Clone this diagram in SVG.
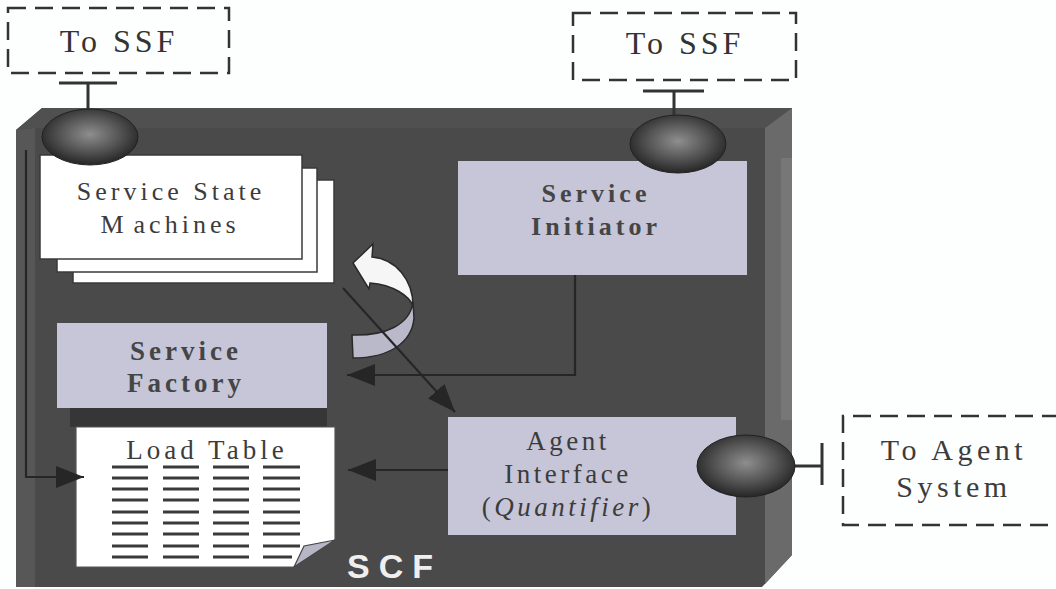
<svg xmlns="http://www.w3.org/2000/svg" width="1056" height="589" viewBox="0 0 1056 589">
  <defs>
    <radialGradient id="knob" cx="0.5" cy="0.45" r="0.55">
      <stop offset="0" stop-color="#8e8e8e"/>
      <stop offset="0.55" stop-color="#565656"/>
      <stop offset="1" stop-color="#262626"/>
    </radialGradient>
    <marker id="head" markerUnits="userSpaceOnUse" markerWidth="30" markerHeight="24" refX="28" refY="11" orient="auto">
      <path d="M0,0 L28,11 L0,22 Z" fill="#262626"/>
    </marker>
    <style>
      .serif{font-family:"Liberation Serif","Times New Roman",serif;fill:#3c3c3c;text-anchor:middle}
      .ext{font-size:32px;letter-spacing:4px;fill:#333}
      .body{font-size:26px;letter-spacing:4px}
      .bold{font-weight:bold;fill:#454545}
      .dash{fill:none;stroke:#333;stroke-width:2.5;stroke-dasharray:18 9}
      .knob{fill:url(#knob);stroke:#222;stroke-width:1}
      .stem{fill:none;stroke:#333;stroke-width:3}
      .panel{fill:#c6c6d8}
      .card{fill:#fff;stroke:#3a3a3a;stroke-width:1.5}
      .wire{fill:none;stroke:#262626;stroke-width:2.2}
      .rows{stroke:#3a3a3a;stroke-width:3}
    </style>
  </defs>

  <rect width="1056" height="589" fill="#fdfefe"/>

  <!-- SCF enclosure: bevelled frame -->
  <g id="scf">
    <polygon points="42,108 792,108 792,555 762,587 16,587 16,130" fill="#4a4a4a"/>
    <polygon points="42,108 792,108 765,128 35,128 16,130" fill="#505050"/>
    <polygon points="16,130 35,128 35,587 16,587" fill="#575757"/>
    <polygon points="765,128 792,108 792,555 765,584" fill="#6a6a6a"/>
    <rect x="781" y="158" width="11" height="262" fill="#777"/>
    <text x="347" y="578" font-family="'Liberation Sans',Arial,sans-serif" font-weight="bold" font-size="34" letter-spacing="9" fill="#efefef">SCF</text>
  </g>

  <!-- external endpoints -->
  <g id="ssf-left">
    <rect class="dash" x="8" y="8" width="221" height="65"/>
    <text class="serif ext" x="119" y="52">To SSF</text>
  </g>
  <g id="ssf-right">
    <rect class="dash" x="573" y="13" width="223" height="67"/>
    <text class="serif ext" x="685" y="54">To SSF</text>
  </g>
  <g id="agent-system">
    <path class="dash" d="M1060,416 H843 V525 H1060"/>
    <text class="serif" x="954" y="460" font-size="30" letter-spacing="4.5" fill="#333">To Agent</text>
    <text class="serif" x="954" y="497" font-size="30" letter-spacing="4.5" fill="#333">System</text>
  </g>

  <!-- Service State Machines: stacked cards -->
  <g id="state-machines">
    <rect class="card" x="73" y="180" width="261" height="103"/>
    <rect class="card" x="57" y="168" width="260" height="104"/>
    <rect class="card" x="40" y="155" width="262" height="104"/>
    <text class="serif body" x="171" y="200">Service State</text>
    <text class="serif body" x="170" y="233">M<tspan dx="6">achines</tspan></text>
  </g>

  <!-- Service Initiator -->
  <g id="initiator">
    <rect class="panel" x="458" y="161" width="289" height="114"/>
    <text class="serif body bold" x="596" y="202">Service</text>
    <text class="serif body bold" x="596" y="235">Initiator</text>
  </g>

  <!-- Service Factory -->
  <g id="factory">
    <rect x="70" y="408" width="257" height="19" fill="#363636"/>
    <rect class="panel" x="57" y="323" width="270" height="85"/>
    <text class="serif bold" x="186" y="360" font-size="27" letter-spacing="4">Service</text>
    <text class="serif bold" x="186" y="392" font-size="27" letter-spacing="4">Factory</text>
  </g>

  <!-- Load Table: page with rows and folded corner -->
  <g id="load-table">
    <polygon points="76,427 335,427 335,540 294,567 76,567" fill="#fff" stroke="#555" stroke-width="1.2"/>
    <text class="serif" x="207" y="459" font-size="27" letter-spacing="4">Load Table</text>
    <g class="rows">
      <path d="M112,467H148M163,467H199M213,467H249M263,467H300
               M112,478H148M163,478H199M213,478H249M263,478H300
               M112,489H148M163,489H199M213,489H249M263,489H300
               M112,500H148M163,500H199M213,500H249M263,500H300
               M112,512H148M163,512H199M213,512H249M263,512H300
               M112,523H148M163,523H199M213,523H249M263,523H300
               M112,534H148M163,534H199M213,534H249M263,534H300
               M112,546H148M163,546H199M213,546H249M263,546H300
               M112,557H148M163,557H199M213,557H249M263,557H292"/>
    </g>
    <polygon points="294,567 304,546 335,540" fill="#b6b6c6" stroke="#444" stroke-width="1.2"/>
  </g>

  <!-- Agent Interface -->
  <g id="agent-interface">
    <rect class="panel" x="448" y="417" width="288" height="118"/>
    <text class="serif" x="568" y="450" font-size="27" letter-spacing="3.5">Agent</text>
    <text class="serif" x="568" y="483" font-size="27" letter-spacing="3.5">Interface</text>
    <text class="serif" x="568" y="516" font-size="27" letter-spacing="3.5">(<tspan font-style="italic">Quantifier</tspan>)</text>
  </g>

  <!-- recycle arrow -->
  <g id="recycle">
    <path d="M413,302 C410,325 385,336 352,335 L353,358 C390,358 412,342 414,318 Z" fill="#b9b9c9" stroke="#2a2a2a" stroke-width="1.5"/>
    <path d="M353,263 L373,244 L372,257 C396,259 413,280 413,306 C409,296 394,285 370,283 L369,289 Z" fill="#f6f6f6" stroke="#2a2a2a" stroke-width="1.5"/>
  </g>

  <!-- connectors -->
  <g id="connectors">
    <path class="wire" d="M26,150 V477 H84" marker-end="url(#head)"/>
    <path class="wire" d="M575,275 V375 H347" marker-end="url(#head)"/>
    <path class="wire" d="M448,470 H348" marker-end="url(#head)"/>
    <path class="wire" d="M343,288 L455,412" marker-end="url(#head)"/>
    <!-- interface stems -->
    <path class="stem" d="M59,83 H117 M88,83 V112"/>
    <path class="stem" d="M643,91 H704 M674,91 V118"/>
    <path class="stem" d="M793,466 H822 M822,443 V485"/>
  </g>

  <!-- interface knobs -->
  <g id="port-ssf-left"><ellipse class="knob" cx="90" cy="137" rx="48" ry="28"/></g>
  <g id="port-ssf-right"><ellipse class="knob" cx="678" cy="144" rx="48" ry="29"/></g>
  <g id="port-agent"><ellipse class="knob" cx="746" cy="466" rx="49" ry="31"/></g>
</svg>
